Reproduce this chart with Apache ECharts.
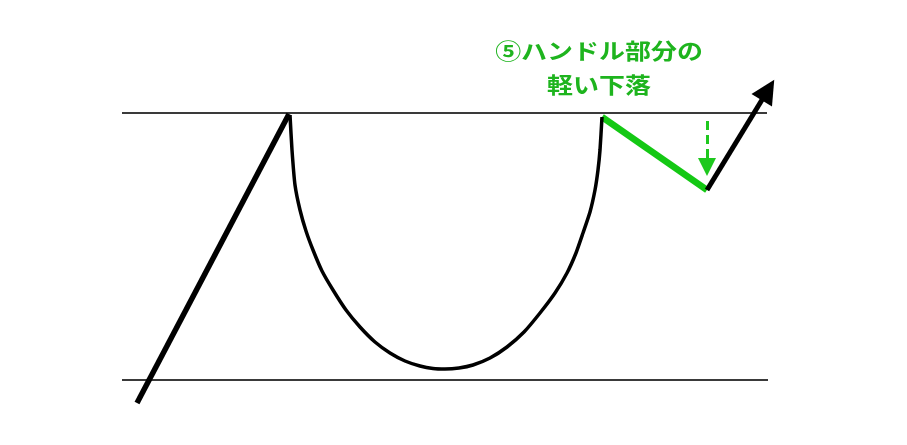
<!DOCTYPE html>
<html>
<head>
<meta charset="utf-8">
<script src="https://cdn.jsdelivr.net/npm/echarts@6/dist/echarts.min.js"></script>
<style>html,body{margin:0;padding:0;background:#fff}#c{width:907px;height:445px}</style>
</head>
<body>
<div id="c"></div>
<script>
// Values (diagram units: x to the right, y downward)
const resistanceLine = [[122, 112.5], [767, 112.5]];
const supportLine = [[122, 380], [768, 380]];
const riseLine = [[137, 403], [289, 114]];
const cupX = [290, 292, 295, 300, 306, 313, 322, 333, 346, 360, 375, 390, 405, 420, 433, 445, 459, 473, 490, 507, 524, 540, 555, 567, 576, 583, 590, 595, 598, 600, 602];
const cupY = [115, 150, 185, 210, 231, 250, 271, 290, 310, 327, 342, 353, 361, 366, 368.5, 369, 368, 365, 358, 347, 332, 313, 293, 273, 253, 233, 212, 190, 170, 150, 117];
const handleLine = [[602, 117], [707, 190]];
const breakoutLine = [[707, 190], [768, 90]];
const dipArrow = [[707, 121], [707, 167]];
const labelLines = ['⑤ハンドル部分の', '軽い下落'];

const chart = echarts.init(document.getElementById('c'));
const cupData = cupX.map((x, i) => [x, cupY[i]]);

chart.setOption({
  backgroundColor: '#ffffff',
  animation: false,
  grid: {left: 0, right: 0, top: 0, bottom: 0},
  xAxis: {type: 'value', min: 0, max: 907, show: false},
  yAxis: {type: 'value', min: 0, max: 445, inverse: true, show: false},
  graphic: [{
    type: 'text',
    x: 599, y: 68,
    scaleX: 1.18,
    style: {
      text: labelLines.join('\n'),
      fill: '#1eb41e',
      font: 'bold 22px "Noto Sans CJK JP"',
      lineHeight: 34,
      align: 'center',
      verticalAlign: 'middle'
    }
  }],
  series: [
    {
      type: 'lines', coordinateSystem: 'cartesian2d', symbol: 'none',
      lineStyle: {color: '#3a3a3a', width: 2, opacity: 1},
      data: [{coords: resistanceLine}, {coords: supportLine}]
    },
    {
      type: 'line', data: cupData, smooth: 0.2, symbol: 'none',
      lineStyle: {color: '#000', width: 3.5}
    },
    {
      type: 'lines', coordinateSystem: 'cartesian2d', symbol: 'none',
      lineStyle: {color: '#000', width: 5.5, opacity: 1, cap: 'butt'},
      data: [{coords: riseLine}]
    },
    {
      type: 'lines', coordinateSystem: 'cartesian2d', symbol: 'none',
      lineStyle: {color: '#14c814', width: 6.5, opacity: 1},
      data: [{coords: handleLine}]
    },
    {
      type: 'lines', coordinateSystem: 'cartesian2d', symbol: ['none', 'triangle'], symbolSize: [20, 24],
      itemStyle: {color: '#000'},
      lineStyle: {color: '#000', width: 5, opacity: 1},
      data: [{coords: breakoutLine}]
    },
    {
      type: 'lines', coordinateSystem: 'cartesian2d', symbol: ['none', 'triangle'], symbolSize: [14, 18],
      lineStyle: {color: '#1ec81e', width: 3, opacity: 1, type: [9, 5]},
      data: [{coords: dipArrow}]
    }
  ]
});
</script>
</body>
</html>
